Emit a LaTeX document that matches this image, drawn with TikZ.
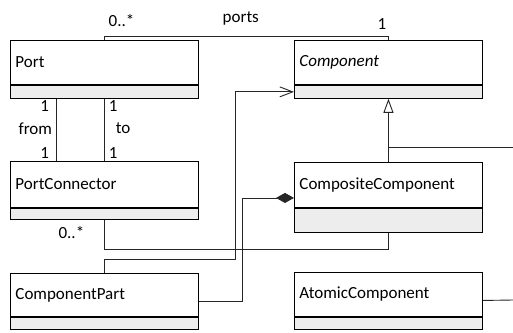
\documentclass[tikz,border=0pt]{standalone}
\usepackage{fontspec}
\setmainfont{Carlito}
\usepackage{tikz}
\usetikzlibrary{positioning}
\usetikzlibrary{arrows.meta}

\begin{document}
\begin{tikzpicture}[x=1pt, y=-1pt,
    font=\fontsize{17}{20}\selectfont,
    cls/.style={draw, line width=0.9pt, minimum height=44pt, text width=178pt, inner sep=5pt, align=left},
    attr/.style={draw, line width=0.9pt, fill=black!7, minimum width=188pt, minimum height=12pt, inner sep=0pt},
    conn/.style={draw=black!85, line width=0.9pt},
    lbl/.style={inner sep=1pt}]
    \useasboundingbox (0,0) rectangle (513,332);

    % classes
    \node(port) [cls, anchor=north west] at (10,40) {Port};
    \node(portA) [attr, below=0pt of port, minimum height=13pt] {};
    \node(comp) [cls, anchor=north west] at (294,40) {\itshape Component};
    \node(compA) [attr, below=0pt of comp, minimum height=13pt] {};
    \node(pconn) [cls, anchor=north west, minimum height=46pt] at (10,161) {PortConnector};
    \node(pconnA) [attr, below=0pt of pconn, minimum height=11pt] {};
    \node(compos) [cls, anchor=north west, minimum height=45pt] at (294,162) {CompositeComponent};
    \node(composA) [attr, below=0pt of compos, minimum height=24pt] {};
    \node(cpart) [cls, anchor=north west, minimum height=43pt] at (10,273) {ComponentPart};
    \node(cpartA) [attr, below=0pt of cpart] {};
    \node(atomic) [cls, anchor=north west] at (294,272) {AtomicComponent};
    \node(atomicA) [attr, below=0pt of atomic] {};

    \coordinate (edgeA) at (513,147);
    \coordinate (edgeB) at (513,300);

    % ports
    \draw[conn] (port.north) -- ++(0,-4) -| node[lbl, pos=0.24, above=9pt] {ports} (comp.north);
    \node[lbl, above right=12pt and 3pt of port.north] {0..*};
    \node[lbl, above left=9pt and 1pt of comp.north] {1};

    % from / to
    \draw[conn] ([xshift=-48pt]portA.south) -- node[lbl, pos=0.11, left=6pt] {1}
        node[lbl, pos=0.48, left=3pt] {from} node[lbl, pos=0.875, left=6pt] {1} ([xshift=-48pt]pconn.north);
    \draw[conn] (portA.south) -- node[lbl, pos=0.11, right=3pt] {1}
        node[lbl, pos=0.48, right=10pt] {to} node[lbl, pos=0.875, right=3pt] {1} (pconn.north);

    % part to component
    \draw[conn, -{Straight Barb[length=13pt, width=10pt, line width=0.9pt]}] (cpart.north) |- ++(131,-14) |- (compA.west);

    % connector to composite
    \draw[conn] (pconnA.south) |- ([yshift=-17pt]composA.south) -- (composA.south);
    \node[lbl, below left=5pt and 19pt of pconnA.south] {0..*};

    % composition
    \draw[conn, -{Diamond[length=18pt, width=10pt]}] ([yshift=-6pt]cpart.east)
        -| ([xshift=-52pt, yshift=-13pt]compos.west) -- ([yshift=-13pt]compos.west);

    % generalization
    \draw[conn, -{Triangle[open, length=14pt, width=10pt, fill=white]}] (compos.north) -- (compA.south);
    \draw[conn] ([yshift=15pt]compos.north) -- (edgeA);
    \draw[conn] ([yshift=-6pt]atomic.east) -- (edgeB);
\end{tikzpicture}
\end{document}
